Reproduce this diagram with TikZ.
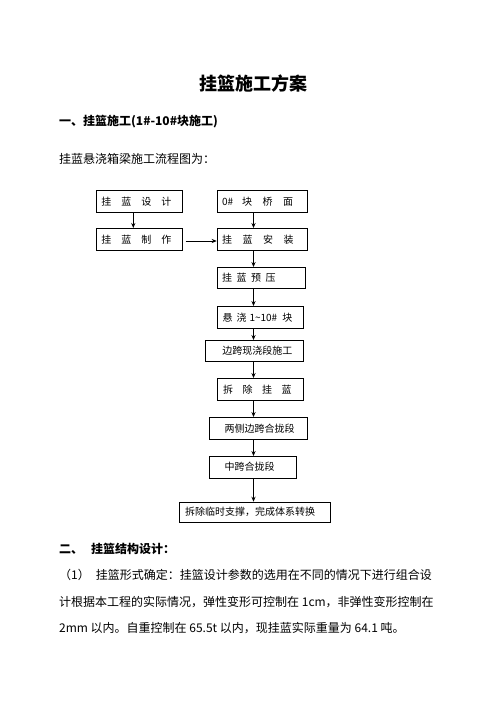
\documentclass[tikz,border=0pt]{standalone}
\usepackage{fontspec}
\setmainfont{Noto Sans CJK SC}
\usetikzlibrary{arrows.meta}
\newlength\pxu
\setlength\pxu{1.2pt}
\newcommand\titlefont{\fontsize{21.6pt}{24pt}\selectfont\bfseries}
\newcommand\headfont{\fontsize{14.4pt}{17pt}\selectfont\bfseries}
\newcommand\bodyfont{\fontsize{14.4pt}{17pt}\selectfont}
\newcommand\boxfont{\fontsize{12pt}{14pt}\selectfont}
\newcommand\gp[1]{\hspace{#1\pxu}}
\tikzset{
  flow/.style={draw, line width=0.8pt, inner sep=0pt, anchor=north west, font=\boxfont},
  arr/.style={line width=1pt, -{Stealth[length=6pt,width=5pt]}},
  txt/.style={inner sep=0pt, anchor=west},
}
\newcommand\flowbox[7]{%
  \pgfmathsetlengthmacro\bw{(#4-#2)*\pxu}%
  \pgfmathsetlengthmacro\bh{(#5-#3)*\pxu}%
  \node[flow, minimum width=\bw, minimum height=\bh] (#1) at (#2,#3)
    {\makebox[\bw][l]{\hspace{#6\pxu}#7}};%
}
\begin{document}
\begin{tikzpicture}[x=1.2pt,y=-1.2pt]
\fill[white] (0,0) rectangle (496,702);
\useasboundingbox (0,0) rectangle (496,702);

\node[inner sep=0pt, font=\titlefont] (title) at (253.5,84) {挂篮施工方案};
\node[txt, font=\headfont] (h1) at (59,121.7) {一、挂篮施工(1\#-10\#块施工)};
\node[txt, font=\bodyfont] (intro) at (59,159) {挂蓝悬浇箱梁施工流程图为：};

\flowbox{b1}{96}{190}{182}{212}{5}{挂\gp{10}蓝\gp{10}设\gp{10}计}
\flowbox{b2}{216.7}{190}{307}{212}{5}{0\#\gp{9}块\gp{10.5}桥\gp{10.5}面}
\flowbox{b3}{96}{228}{182}{250}{5}{挂\gp{10}蓝\gp{10}制\gp{10}作}
\flowbox{b4}{216.7}{228}{307}{250}{5}{挂\gp{10.5}蓝\gp{10.5}安\gp{10.5}装}
\flowbox{b5}{216.7}{267}{305}{288}{5}{挂\gp{4.5}蓝\gp{4.5}预\gp{4.5}压}
\flowbox{b6}{216.7}{306}{303.3}{328}{5.5}{悬\gp{4}浇\gp{3}1\textasciitilde 10\#\gp{5}块}
\flowbox{b7}{205}{340}{303}{361}{17}{边跨现浇段施工}
\flowbox{b8}{216.7}{378}{303.3}{400}{6}{拆\gp{9.5}除\gp{9.5}挂\gp{9.5}蓝}
\flowbox{b9}{209.3}{417}{306.7}{439}{15}{两侧边跨合拢段}
\flowbox{b10}{209.3}{456}{295.7}{477.5}{15}{中跨合拢段}
\flowbox{b11}{179.3}{501.7}{330}{521.7}{5.5}{拆除临时支撑，完成体系转换}

\coordinate (colL) at (133.3,0);
\coordinate (colR) at (253.5,0);
\coordinate (rowH) at (0,241);

\draw[arr] (b1.south -| colL) -- (b3.north -| colL);
\draw[arr] ([xshift=3\pxu]b3.east |- rowH) -- (b4.west |- rowH);
\draw[arr] (b2.south -| colR) -- (b4.north -| colR);
\draw[arr] (b4.south -| colR) -- (b5.north -| colR);
\draw[arr] (b5.south -| colR) -- (b6.north -| colR);
\draw[arr] (b6.south -| colR) -- (b7.north -| colR);
\draw[arr] (b7.south -| colR) -- (b8.north -| colR);
\draw[arr] (b8.south -| colR) -- (b9.north -| colR);
\draw[arr] (b9.south -| colR) -- (b10.north -| colR);
\draw[arr] (b10.south -| colR) -- (b11.north -| colR);

\node[txt, font=\headfont] (h2) at (59,549) {二、\gp{8}挂篮结构设计：};
\node[txt, font=\bodyfont] (p1) at (59,575) {（1）\gp{6}挂篮形式确定：挂篮设计参数的选用在不同的情况下进行组合设};
\node[txt, font=\bodyfont] (p2) at (59,601.7) {计根据本工程的实际情况，弹性变形可控制在 1cm，非弹性变形控制在};
\node[txt, font=\bodyfont] (p3) at (59,628) {2mm 以内。自重控制在 65.5t 以内，现挂蓝实际重量为 64.1 吨。};
\end{tikzpicture}
\end{document}
